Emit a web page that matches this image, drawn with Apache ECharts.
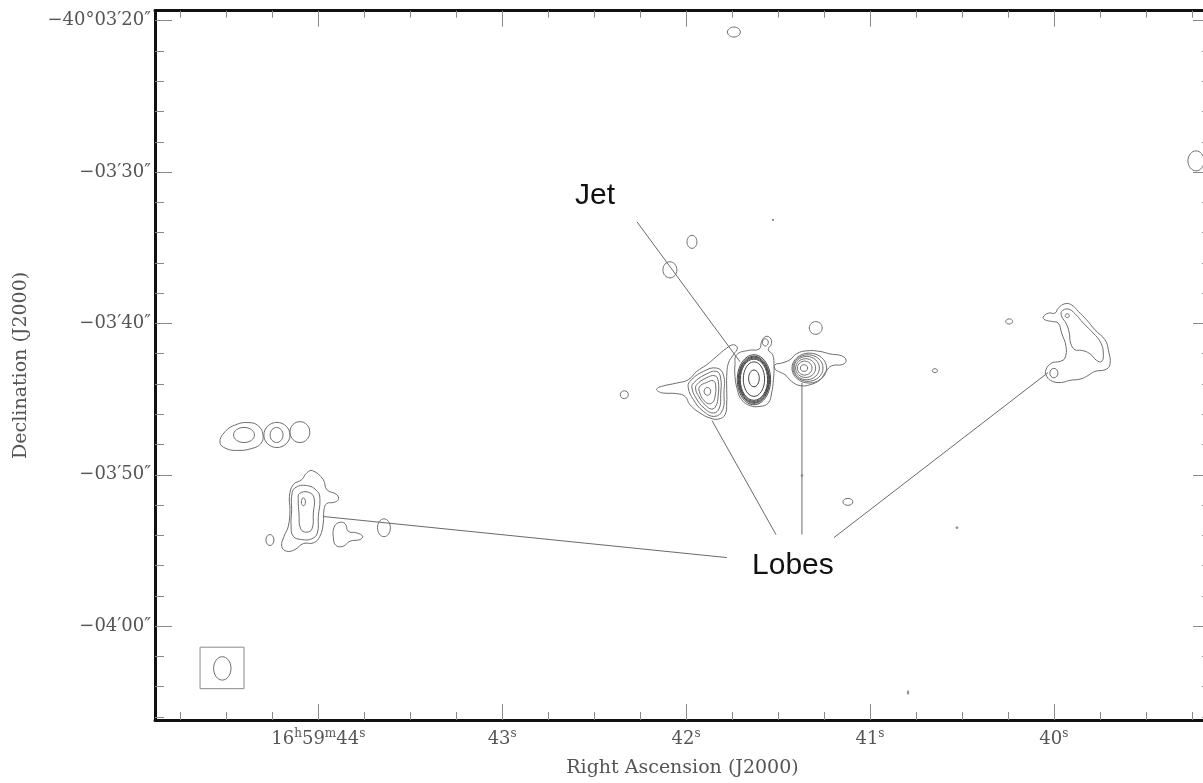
<!DOCTYPE html>
<html>
<head>
<meta charset="utf-8">
<title>Radio map</title>
<script src="https://cdn.jsdelivr.net/npm/echarts@6/dist/echarts.min.js"></script>
<style>
html, body { margin: 0; padding: 0; background: #fff; overflow: hidden; }
/* the frame runs a few pixels past the right edge of the window */
#chart { width: 1210px; height: 783px; }
</style>
</head>
<body>
<div id="chart"></div>
<script>
// x = RA seconds of 16h59m, y = Dec arcsec offset from -40°03'00"
var raMin = 39.151, raMax = 44.888;
var decMin = -66.2, decMax = -19.34;

var raMajor = [44, 43, 42, 41, 40];
var raLabels = ['16h59m44s', '43s', '42s', '41s', '40s'];
var raMinor = [39.25, 39.5, 39.75, 40.25, 40.5, 40.75, 41.25, 41.5, 41.75,
    42.25, 42.5, 42.75, 43.25, 43.5, 43.75, 44.25, 44.5, 44.75];
var decMajor = [-20, -30, -40, -50, -60];
var decLabels = ['\u221240\u00b003\u203220\u2033', '\u221203\u203230\u2033', '\u221203\u203240\u2033',
    '\u221203\u203250\u2033', '\u221204\u203200\u2033'];
var decMinor = [-22, -24, -26, -28, -32, -34, -36, -38, -42, -44, -46, -48,
    -52, -54, -56, -58, -62, -64, -66];

// compact components: [ra, dec, half width (s), half height (")]
var compactSources = [
    [41.740, -20.75, 0.035, 0.33],
    [39.227, -29.26, 0.044, 0.66],
    [41.527, -33.16, 0.004, 0.05],
    [41.968, -34.61, 0.027, 0.43],
    [42.088, -36.46, 0.038, 0.53],
    [41.295, -40.30, 0.035, 0.42],
    [40.243, -39.87, 0.019, 0.17],
    [40.647, -43.12, 0.014, 0.13],
    [42.336, -44.71, 0.022, 0.26],
    [41.370, -50.05, 0.004, 0.06],
    [41.120, -51.79, 0.027, 0.23],
    [40.527, -53.49, 0.005, 0.06],
    [40.793, -64.38, 0.003, 0.12],
    [44.404, -47.37, 0.057, 0.50],
    [44.225, -47.37, 0.071, 0.83],
    [44.227, -47.37, 0.035, 0.50],
    [44.100, -47.18, 0.054, 0.69],
    [44.081, -51.79, 0.011, 0.26],
    [44.263, -54.31, 0.022, 0.36],
    [43.643, -53.50, 0.035, 0.59],
    [41.884, -44.49, 0.018, 0.26],
    [41.569, -41.25, 0.016, 0.24],
    [39.927, -39.49, 0.011, 0.13],
    [40.000, -43.28, 0.022, 0.31]
];
var coreRings = [
    [41.631, -43.72, 0.0906, 1.65],
    [41.631, -43.72, 0.0852, 1.56],
    [41.631, -43.72, 0.0816, 1.50],
    [41.631, -43.72, 0.0779, 1.43],
    [41.631, -43.72, 0.0743, 1.36],
    [41.631, -43.68, 0.058, 1.14],
    [41.631, -43.63, 0.029, 0.55]
];
var eastKnotRings = [
    [41.330, -42.95, 0.0943, 0.99],
    [41.337, -42.95, 0.0816, 0.88],
    [41.344, -42.95, 0.0689, 0.77],
    [41.350, -42.95, 0.0544, 0.62],
    [41.355, -42.95, 0.0399, 0.46],
    [41.359, -42.95, 0.0199, 0.22]
];

// extended contours, [ra, dec] vertices
var westPairOuter = [[44.535, -47.86], [44.507, -47.15], [44.448, -46.69], [44.382, -46.55], [44.328, -46.75],
    [44.301, -47.34], [44.312, -47.93], [44.361, -48.26], [44.437, -48.39], [44.502, -48.26]];
var westLobe1 = [[44.031, -49.73], [43.973, -50.32], [43.954, -50.98], [43.900, -51.31], [43.891, -51.64],
    [43.915, -51.82], [43.954, -51.90], [43.969, -52.30], [43.973, -53.18], [43.991, -54.06], [44.027, -54.50],
    [44.081, -54.54], [44.127, -54.94], [44.172, -55.05], [44.199, -54.72], [44.186, -54.06], [44.163, -53.40],
    [44.154, -52.30], [44.157, -51.42], [44.136, -50.65], [44.090, -50.32], [44.063, -49.88]];
var westLobe2 = [[44.127, -50.87], [44.063, -50.71], [44.005, -51.09], [43.991, -51.64], [44.000, -52.74],
    [44.005, -53.84], [44.036, -54.23], [44.090, -54.28], [44.136, -54.06], [44.148, -53.40], [44.145, -52.30],
    [44.145, -51.42]];
var westLobe3 = [[44.103, -51.24], [44.054, -51.15], [44.023, -51.53], [44.027, -52.52], [44.034, -53.57],
    [44.063, -53.79], [44.096, -53.57], [44.105, -52.52], [44.109, -51.64]];
var westBlob = [[43.891, -53.17], [43.855, -53.22], [43.837, -53.73], [43.791, -53.84], [43.759, -54.06],
    [43.773, -54.28], [43.828, -54.39], [43.864, -54.72], [43.904, -54.67], [43.918, -54.16], [43.915, -53.50]];
var centreLobe0 = [[42.160, -44.34], [42.133, -44.16], [42.051, -43.94], [41.988, -43.72], [41.942, -43.17],
    [41.888, -42.73], [41.834, -42.18], [41.779, -41.63], [41.743, -41.41], [41.721, -41.63], [41.743, -42.07],
    [41.770, -42.62], [41.779, -43.50], [41.779, -44.38], [41.779, -45.26], [41.788, -46.03], [41.825, -46.32],
    [41.870, -46.25], [41.924, -45.92], [41.979, -45.37], [42.006, -44.82], [42.051, -44.64], [42.124, -44.60],
    [42.151, -44.49]];
var centreLobe1 = [[41.979, -43.83], [41.906, -43.17], [41.834, -42.95], [41.797, -43.39], [41.794, -44.60],
    [41.801, -45.70], [41.843, -46.14], [41.906, -45.81], [41.960, -45.04], [41.988, -44.27]];
var centreLobe2 = [[41.960, -43.94], [41.897, -43.39], [41.834, -43.17], [41.812, -43.61], [41.812, -44.71],
    [41.819, -45.59], [41.852, -45.92], [41.902, -45.59], [41.946, -44.93], [41.968, -44.27]];
var centreLobe3 = [[41.942, -44.05], [41.892, -43.61], [41.843, -43.46], [41.825, -43.83], [41.826, -44.82],
    [41.837, -45.44], [41.861, -45.66], [41.897, -45.37], [41.931, -44.82], [41.948, -44.34]];
var centreLobe4 = [[41.928, -44.20], [41.888, -43.90], [41.852, -43.79], [41.839, -44.12], [41.843, -44.86],
    [41.855, -45.21], [41.879, -45.30], [41.906, -45.04], [41.924, -44.64]];
var coreEnvelope = [[41.725, -42.07], [41.661, -41.78], [41.602, -41.69], [41.589, -41.19], [41.567, -40.86],
    [41.542, -40.97], [41.536, -41.34], [41.553, -41.74], [41.529, -42.07], [41.522, -42.84], [41.525, -43.72],
    [41.535, -44.60], [41.553, -45.26], [41.598, -45.48], [41.652, -45.43], [41.698, -45.04], [41.721, -44.38],
    [41.734, -43.50], [41.734, -42.73]];
var eastKnotEnvelope = [[41.516, -42.73], [41.480, -42.62], [41.435, -42.40], [41.399, -42.00], [41.344, -41.81],
    [41.272, -41.85], [41.217, -42.02], [41.154, -42.14], [41.130, -42.44], [41.148, -42.71], [41.208, -42.80],
    [41.239, -43.17], [41.272, -43.72], [41.326, -44.05], [41.380, -44.11], [41.426, -43.83], [41.462, -43.39],
    [41.498, -43.17], [41.516, -43.02]];
var neLobeOuter = [[40.058, -39.58], [40.030, -39.32], [39.994, -39.32], [39.976, -38.99], [39.940, -38.70],
    [39.904, -38.77], [39.867, -39.21], [39.822, -39.76], [39.777, -40.42], [39.722, -41.08], [39.704, -41.74],
    [39.695, -42.73], [39.722, -43.06], [39.777, -43.17], [39.822, -43.50], [39.858, -43.68], [39.913, -43.76],
    [39.958, -43.90], [40.007, -43.83], [40.039, -43.50], [40.043, -43.06], [40.012, -42.62], [39.967, -42.51],
    [39.940, -42.29], [39.934, -41.52], [39.958, -40.64], [39.976, -39.98], [40.012, -39.87], [40.049, -39.76]];
var neLobeInner = [[39.958, -39.21], [39.922, -39.05], [39.885, -39.36], [39.840, -39.98], [39.786, -40.64],
    [39.746, -41.25], [39.731, -41.96], [39.740, -42.51], [39.768, -42.44], [39.804, -42.00], [39.849, -41.78],
    [39.885, -41.74], [39.909, -41.30], [39.916, -40.64], [39.934, -39.98], [39.956, -39.58]];

// restoring beam
var beamBox = [[44.643, -61.39], [44.404, -64.13]];
var beamEllipse = [44.522, -62.79, 0.0473, 0.772];

// annotation pointers and texts
var pointerLines = [
    [[42.267, -33.29], [41.707, -42.53]],
    [[41.511, -53.95], [41.859, -46.42]],
    [[41.370, -53.95], [41.370, -43.91]],
    [[41.196, -54.15], [40.032, -43.25]],
    [[41.778, -55.47], [43.969, -52.76]]
];
var annotations = [['Jet', 42.495, -31.57], ['Lobes', 41.419, -55.99]];

var contourList = [westPairOuter, westLobe1, westLobe2, westLobe3, westBlob,
    centreLobe0, centreLobe1, centreLobe2, centreLobe3, centreLobe4,
    coreEnvelope, eastKnotEnvelope, neLobeOuter, neLobeInner];
var ellipseList = compactSources.concat(eastKnotRings, [beamEllipse]);

var serif = 'DejaVu Serif';
var labelGray = '#555';
var tickGray = '#8a8a8a';
var contourGray = '#6e6e6e';

var chart = echarts.init(document.getElementById('chart'));

function raFormatter(v) {
    for (var i = 0; i < raMajor.length; i++) {
        if (Math.abs(raMajor[i] - v) < 1e-6) {
            return raLabels[i].replace(/(\d+)([hms])/g, '{n|$1}{sup|$2}');
        }
    }
    return '';
}
function decFormatter(v) {
    for (var i = 0; i < decMajor.length; i++) {
        if (Math.abs(decMajor[i] - v) < 1e-6) return decLabels[i];
    }
    return '';
}

function makeAxis(dim, position, ticks, tickLen, withLine, withLabel) {
    var ax = {
        type: 'value',
        position: position,
        min: dim === 'x' ? raMin : decMin,
        max: dim === 'x' ? raMax : decMax,
        inverse: dim === 'x',
        splitLine: { show: false },
        axisLine: { show: withLine, onZero: false, lineStyle: { color: '#111', width: 3 } },
        axisTick: { show: true, inside: true, length: tickLen, customValues: ticks,
            lineStyle: { color: tickGray, width: 1 } },
        axisLabel: { show: false },
        axisPointer: { show: false }
    };
    if (withLabel) {
        if (dim === 'x') {
            ax.axisLabel = {
                show: true, customValues: raMajor, formatter: raFormatter, margin: 8,
                rich: {
                    n: { fontFamily: serif, fontSize: 18, color: labelGray, lineHeight: 22 },
                    sup: { fontFamily: serif, fontSize: 12, color: labelGray, lineHeight: 12, verticalAlign: 'top' }
                }
            };
            ax.name = 'Right Ascension (J2000)';
            ax.nameLocation = 'middle';
            ax.nameGap = 39;
        } else {
            ax.axisLabel = {
                show: true, customValues: decMajor, formatter: decFormatter, margin: 4,
                fontFamily: serif, fontSize: 18, color: labelGray
            };
            ax.name = 'Declination (J2000)';
            ax.nameLocation = 'middle';
            ax.nameGap = 124;
        }
        ax.nameTextStyle = { fontFamily: serif, fontSize: 19, color: labelGray };
    }
    return ax;
}

function ellipseItem(params, api) {
    var isCore = params.seriesName === 'core';
    var d = isCore ? coreRings[params.dataIndex] : ellipseList[params.dataIndex];
    var c = api.coord([d[0], d[1]]);
    var s = api.size([d[2], d[3]], [d[0], d[1]]);
    return {
        type: 'ellipse',
        shape: { cx: c[0], cy: c[1], rx: Math.max(s[0], 0.6), ry: Math.max(s[1], 0.6) },
        style: { fill: 'none', stroke: isCore ? '#444' : contourGray, lineWidth: 1 }
    };
}

function contourItem(params, api) {
    var pts = contourList[params.dataIndex].map(function (p) { return api.coord(p); });
    return {
        type: 'polygon',
        shape: { points: pts, smooth: 0.45 },
        style: { fill: 'none', stroke: contourGray, lineWidth: 1 }
    };
}

function pointerItem(params, api) {
    var seg = pointerLines[params.dataIndex];
    var a = api.coord(seg[0]), b = api.coord(seg[1]);
    return {
        type: 'line',
        shape: { x1: a[0], y1: a[1], x2: b[0], y2: b[1] },
        style: { stroke: '#6a6a6a', lineWidth: 1 }
    };
}

function beamBoxItem(params, api) {
    var a = api.coord(beamBox[0]), b = api.coord(beamBox[1]);
    return {
        type: 'rect',
        shape: { x: Math.min(a[0], b[0]), y: Math.min(a[1], b[1]), width: Math.abs(b[0] - a[0]), height: Math.abs(b[1] - a[1]) },
        style: { fill: 'none', stroke: '#8a8a8a', lineWidth: 1 }
    };
}

function textItem(params, api) {
    var t = annotations[params.dataIndex];
    var p = api.coord([t[1], t[2]]);
    return {
        type: 'text',
        style: { text: t[0], x: p[0], y: p[1], fill: '#111', align: 'center', verticalAlign: 'middle',
            font: '30px "Liberation Sans", Arial, sans-serif' }
    };
}

var option = {
    animation: false,
    backgroundColor: '#fff',
    grid: { left: 155, top: 10.7, right: 0, bottom: 62.3, containLabel: false },
    xAxis: [
        makeAxis('x', 'bottom', raMajor, 16, true, true),
        makeAxis('x', 'bottom', raMinor, 8, false, false),
        makeAxis('x', 'top', raMajor, 16, true, false),
        makeAxis('x', 'top', raMinor, 7, false, false)
    ],
    yAxis: [
        makeAxis('y', 'left', decMajor, 17, true, true),
        makeAxis('y', 'left', decMinor, 9, false, false),
        makeAxis('y', 'right', decMajor, 17, true, false),
        makeAxis('y', 'right', decMinor, 8, false, false)
    ],
    series: [
        { type: 'custom', name: 'contours', silent: true, renderItem: contourItem,
            data: contourList.map(function (c) { return c[0]; }) },
        { type: 'custom', name: 'compact', silent: true, renderItem: ellipseItem,
            data: ellipseList.map(function (e) { return [e[0], e[1]]; }) },
        { type: 'custom', name: 'core', silent: true, renderItem: ellipseItem,
            data: coreRings.map(function (e) { return [e[0], e[1]]; }) },
        { type: 'custom', name: 'beam', silent: true, renderItem: beamBoxItem,
            data: [beamBox[0]] },
        { type: 'custom', name: 'pointers', silent: true, renderItem: pointerItem,
            data: pointerLines.map(function (s) { return s[0]; }) },
        { type: 'custom', name: 'labels', silent: true, renderItem: textItem,
            data: annotations.map(function (t) { return [t[1], t[2]]; }) }
    ]
};

chart.setOption(option);
</script>
</body>
</html>
